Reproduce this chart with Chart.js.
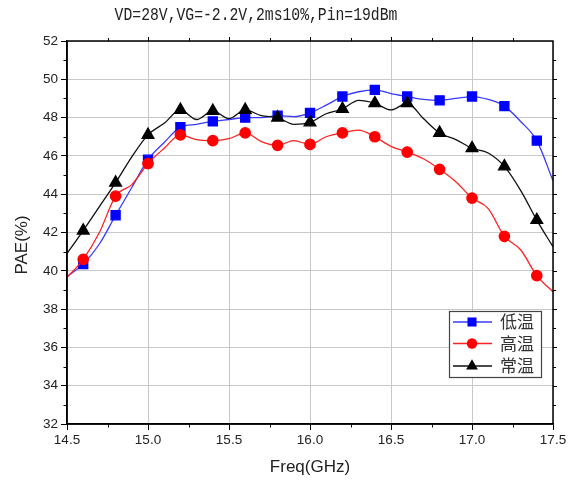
<!DOCTYPE html>
<html><head><meta charset="utf-8">
<script src="https://cdn.jsdelivr.net/npm/chart.js@4/dist/chart.umd.min.js"></script>
<style>html,body{margin:0;padding:0;background:#fff;}#wrap{position:relative;width:575px;height:484px;}</style>
</head><body><div id="wrap"><canvas id="c" width="575" height="484"></canvas></div>
<script>
const chartTitle = 'VD=28V,VG=-2.2V,2ms10%,Pin=19dBm';
const xAxisTitle = 'Freq(GHz)';
const yAxisTitle = 'PAE(%)';
const seriesNames = ['低温', '高温', '常温'];
const freqGHz = [14.5,14.6,14.7,14.8,14.9,15.0,15.1,15.2,15.3,15.4,15.5,15.6,15.7,15.8,15.9,16.0,16.1,16.2,16.3,16.4,16.5,16.6,16.7,16.8,16.9,17.0,17.1,17.2,17.3,17.4,17.5];
const paeLow  = [39.7,40.35,41.4,42.9,44.35,45.8,46.7,47.5,47.65,47.8,47.9,48.0,48.0,48.1,48.05,48.25,48.65,49.1,49.35,49.45,49.25,49.1,48.95,48.9,49.0,49.1,48.95,48.6,47.8,46.8,44.7];
const paeHigh = [39.65,40.6,42.0,43.9,44.5,45.6,46.4,47.1,46.85,46.8,46.9,47.2,46.75,46.55,46.8,46.6,47.0,47.2,47.35,47.0,46.5,46.2,45.85,45.3,44.65,43.8,43.25,41.8,41.1,39.75,38.9];
const paeRoom = [40.9,42.1,43.35,44.6,45.95,47.1,47.7,48.4,47.9,48.35,47.95,48.4,48.1,48.0,47.65,47.75,48.2,48.45,48.9,48.75,48.4,48.75,47.95,47.2,46.85,46.4,46.15,45.45,44.2,42.65,41.25];
const xTickLabels = ['14.5','15.0','15.5','16.0','16.5','17.0','17.5'];
const yTickLabels = ['32','34','36','38','40','42','44','46','48','50','52'];

const isMarker = i => Math.round(freqGHz[i] * 10) % 2 === 0;
const toXY = arr => freqGHz.map((f, i) => ({x: f, y: arr[i]}));

const seriesStyle = [
  {line: '#3a3aff', fill: '#0000ff', shape: 'rect', r: 6.4},
  {line: '#ff2020', fill: '#ff0000', shape: 'circle', r: 5.2},
  {line: '#111111', fill: '#000000', shape: 'triangle', r: 6.8}
];
const seriesData = [paeLow, paeHigh, paeRoom];

const datasets = seriesData.map((arr, k) => ({
  label: seriesNames[k],
  data: toXY(arr),
  borderColor: seriesStyle[k].line,
  backgroundColor: seriesStyle[k].fill,
  pointBackgroundColor: seriesStyle[k].fill,
  pointBorderColor: seriesStyle[k].fill,
  pointStyle: seriesStyle[k].shape,
  pointRadius: ctx => isMarker(ctx.dataIndex) ? seriesStyle[k].r : 0,
  pointHoverRadius: 0,
  borderWidth: 1.3,
  cubicInterpolationMode: 'monotone',
  order: [2, 1, 0][k]
}));

function drawShape(ctx, shape, x, y, r, color) {
  ctx.fillStyle = color;
  ctx.beginPath();
  if (shape === 'rect') {
    const s = Math.SQRT1_2 * r;
    ctx.rect(x - s, y - s, 2 * s, 2 * s);
  } else if (shape === 'circle') {
    ctx.arc(x, y, r, 0, Math.PI * 2);
  } else {
    ctx.moveTo(x, y - r);
    ctx.lineTo(x + r * 0.866, y + r / 2);
    ctx.lineTo(x - r * 0.866, y + r / 2);
    ctx.closePath();
  }
  ctx.fill();
}

const decor = {
  id: 'decor',
  afterDraw(chart) {
    const ctx = chart.ctx;
    const a = chart.chartArea;
    const xs = chart.scales.x, ys = chart.scales.y;
    ctx.save();
    ctx.strokeStyle = '#000';
    ctx.lineWidth = 1.5;
    ctx.strokeRect(a.left, a.top, a.right - a.left, a.bottom - a.top);
    ctx.lineWidth = 1;
    for (let v = 14.75; v < 17.5; v += 0.5) {
      const px = Math.round(xs.getPixelForValue(v)) + 0.5;
      ctx.beginPath(); ctx.moveTo(px, a.bottom); ctx.lineTo(px, a.bottom + 3.5); ctx.stroke();
      ctx.beginPath(); ctx.moveTo(px, a.top); ctx.lineTo(px, a.top - 3); ctx.stroke();
    }
    for (let v = 33; v < 52; v += 2) {
      const py = Math.round(ys.getPixelForValue(v)) + 0.5;
      ctx.beginPath(); ctx.moveTo(a.left, py); ctx.lineTo(a.left - 3.5, py); ctx.stroke();
      ctx.beginPath(); ctx.moveTo(a.right, py); ctx.lineTo(a.right + 3, py); ctx.stroke();
    }
    for (let v = 15; v < 17.5; v += 0.5) {
      const px = Math.round(xs.getPixelForValue(v)) + 0.5;
      ctx.beginPath(); ctx.moveTo(px, a.top); ctx.lineTo(px, a.top - 4); ctx.stroke();
    }
    for (let v = 34; v < 52; v += 2) {
      const py = Math.round(ys.getPixelForValue(v)) + 0.5;
      ctx.beginPath(); ctx.moveTo(a.right, py); ctx.lineTo(a.right + 4, py); ctx.stroke();
    }
    ctx.fillStyle = '#222';
    ctx.font = '19px "Liberation Mono"';
    ctx.textBaseline = 'middle';
    ctx.textAlign = 'center';
    ctx.save();
    ctx.translate(256, 15);
    ctx.scale(0.775, 1);
    ctx.fillText(chartTitle, 0, 0);
    ctx.restore();
    ctx.save();
    ctx.translate(22, 245);
    ctx.rotate(-Math.PI / 2);
    ctx.font = '17px "Liberation Sans"';
    ctx.fillStyle = '#222';
    ctx.fillText(yAxisTitle, 0, 0);
    ctx.restore();
    const lx = 449, ly = 311, lw = 92, lh = 66;
    ctx.fillStyle = '#fff';
    ctx.fillRect(lx, ly, lw, lh);
    ctx.strokeStyle = '#444';
    ctx.lineWidth = 1.2;
    ctx.strokeRect(lx + 0.5, ly + 0.5, lw, lh);
    const rows = [322, 343.5, 366];
    chart.data.datasets.forEach((ds, k) => {
      const y = rows[k];
      ctx.strokeStyle = seriesStyle[k].line;
      ctx.lineWidth = 1.3;
      ctx.beginPath(); ctx.moveTo(453, y); ctx.lineTo(492, y); ctx.stroke();
      drawShape(ctx, seriesStyle[k].shape, 472, y, seriesStyle[k].r, seriesStyle[k].fill);
      ctx.fillStyle = '#333';
      ctx.font = '17px "Noto Sans CJK SC"';
      ctx.textAlign = 'left';
      ctx.textBaseline = 'middle';
      ctx.fillText(ds.label, 500, y);
    });
    ctx.restore();
  }
};

new Chart(document.getElementById('c'), {
  type: 'line',
  data: {datasets},
  plugins: [decor],
  options: {
    responsive: false,
    animation: false,
    devicePixelRatio: 1,
    layout: {padding: {left: 0, right: 22, top: 41, bottom: 0}},
    plugins: {legend: {display: false}, title: {display: false}, tooltip: {enabled: false}},
    scales: {
      x: {
        type: 'linear', min: 14.5, max: 17.5,
        afterFit: s => { s.height = 60; },
        afterBuildTicks: s => { s.ticks = xTickLabels.map(t => ({value: parseFloat(t)})); },
        ticks: {
          callback: (v) => xTickLabels.find(t => parseFloat(t) === v) || '',
          font: {family: '"Liberation Sans"', size: 13.5}, color: '#222', padding: 2, maxRotation: 0
        },
        grid: {color: '#c8c8c8', tickColor: '#000', tickLength: 6, lineWidth: 1},
        border: {display: true, color: '#000', width: 1.5},
        title: {display: true, text: xAxisTitle, font: {family: '"Liberation Sans"', size: 17}, color: '#222', padding: {top: 0, bottom: 6}}
      },
      y: {
        type: 'linear', min: 32, max: 52,
        afterFit: s => { s.width = 67; },
        afterBuildTicks: s => { s.ticks = yTickLabels.map(t => ({value: parseFloat(t)})); },
        ticks: {
          callback: (v) => yTickLabels.find(t => parseFloat(t) === v) || '',
          font: {family: '"Liberation Sans"', size: 13.5}, color: '#222', padding: 3
        },
        grid: {color: '#c8c8c8', tickColor: '#000', tickLength: 6, lineWidth: 1},
        border: {display: true, color: '#000', width: 1.5},
        title: {display: false}
      }
    }
  }
});
</script></body></html>
